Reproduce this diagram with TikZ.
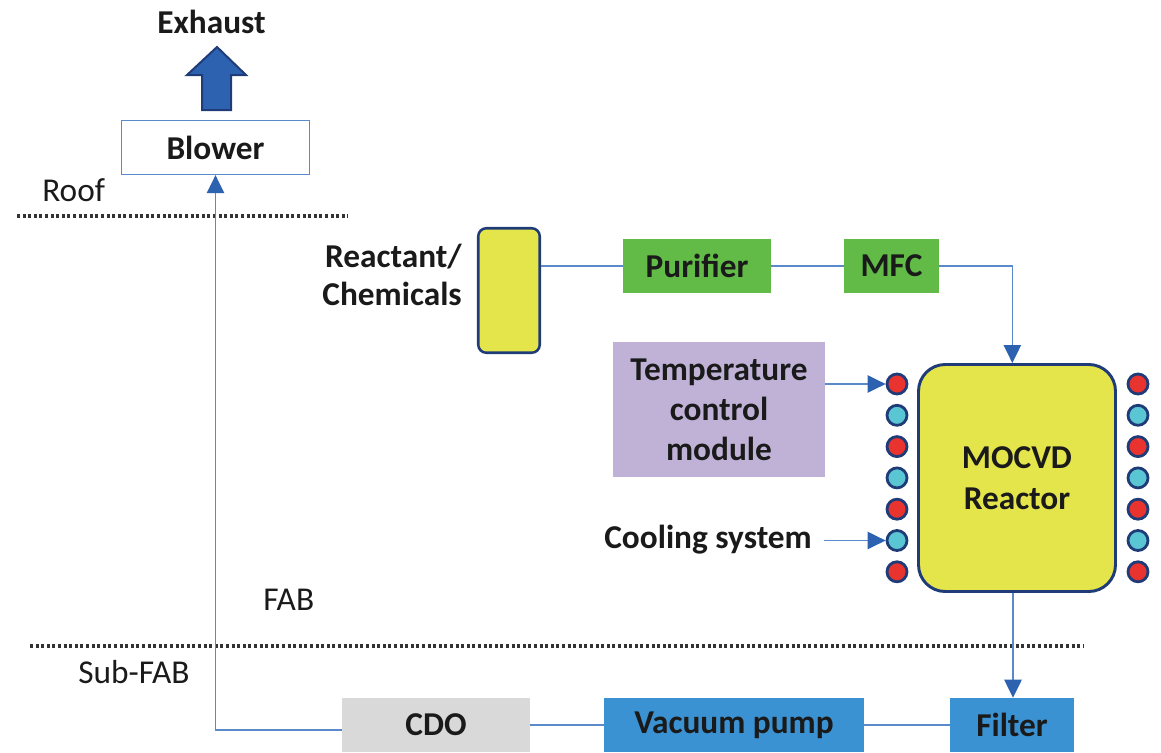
\documentclass[tikz,border=0pt]{standalone}
\usepackage{fontspec}
\setmainfont{Carlito}
\usetikzlibrary{arrows.meta,calc}
\definecolor{lineblue}{HTML}{5A8ACB}
\definecolor{tipblue}{HTML}{2C62B0}
\definecolor{navy}{HTML}{1F3C78}
\definecolor{greenbox}{HTML}{62BB46}
\definecolor{purplebox}{HTML}{C0B2D7}
\definecolor{graybox}{HTML}{D9D9D9}
\definecolor{bluebox}{HTML}{3B92D2}
\definecolor{yellowbox}{HTML}{E4E54B}
\definecolor{reddot}{HTML}{E9332E}
\definecolor{cyandot}{HTML}{5BC6D3}
\definecolor{textdark}{HTML}{1A1A1A}
\newcommand{\px}[1]{#1*0.75pt}
\begin{document}
\begin{tikzpicture}[x=0.75pt,y=-0.75pt,
  box/.style={rectangle, inner sep=0pt, text=textdark,
    font=\bfseries\fontsize{25}{30}\selectfont},
  lbl/.style={inner sep=0pt, text=textdark, font=\fontsize{25}{30}\selectfont},
  blbl/.style={inner sep=0pt, text=textdark, font=\bfseries\fontsize{25}{30}\selectfont},
  conn/.style={draw=lineblue, line width=1.1pt},
  arr/.style={conn, -{Triangle[length=13.5pt,width=13pt,color=tipblue]}},
  dotline/.style={draw=black!80, line width=2.3pt, dash pattern=on 2.2pt off 2pt},
  portdot/.style={circle, inner sep=0pt, minimum size=\px{20}, draw=navy, line width=2.1pt}
]
\useasboundingbox (0,0) rectangle (1161,753);

% exhaust
\node[blbl, anchor=base] (exh) at (211.5,33) {Exhaust};
\draw[fill=tipblue, draw=navy, line width=1.5pt]
  (202,110) -- (202,75) -- (187,75) -- (217,47) -- (246,75) -- (231,75) -- (231,110) -- cycle;

% blower
\node[box, draw=lineblue, line width=1pt, fill=white,
  minimum width=\px{188}, minimum height=\px{54}] (blower) at (215.5,147.5) {Blower};

% level labels and lines
\node[lbl, anchor=base west] (roof) at (42,201.5) {Roof};
\node[lbl, anchor=base west] (fab) at (263,610) {FAB};
\node[lbl, anchor=base west] (subfab) at (78,683) {Sub-FAB};
\coordinate (r1) at (17,216);
\coordinate (r2) at (348,216);
\coordinate (s1) at (30,646);
\coordinate (s2) at (1083,646);
\draw[dotline] (r1) -- (r2);
\draw[dotline] (s1) -- (s2);

% chemicals
\node[blbl, anchor=east, align=right, font=\bfseries\fontsize{25}{28.5}\selectfont]
  (chemlbl) at (462,275) {Reactant/\\Chemicals};
\node[rectangle, draw=navy, fill=yellowbox, line width=1.9pt, rounded corners=6pt,
  minimum width=\px{61.5}, minimum height=\px{124.5}] (cyl) at (509,290.5) {};

\node[box, fill=greenbox, minimum width=\px{148}, minimum height=\px{54}] (pur) at (697,266) {Purifier};
\node[box, fill=greenbox, minimum width=\px{95}, minimum height=\px{54}] (mfc) at (891.5,266) {MFC};

% temperature
\node[box, fill=purplebox, align=center, minimum width=\px{212}, minimum height=\px{135}]
  (temp) at (719,409.5) {Temperature\\control\\module};

% reactor
\node[box, draw=navy, fill=yellowbox, line width=2.2pt, rounded corners=20pt, align=center,
  font=\bfseries\fontsize{25}{31}\selectfont,
  minimum width=\px{197}, minimum height=\px{227}] (reactor) at (1017,478) {MOCVD\\Reactor};

% dots
\foreach \i/\c in {1/reddot,2/cyandot,3/reddot,4/cyandot,5/reddot,6/cyandot,7/reddot} {
  \node[portdot, fill=\c] (dl\i) at (897,{384+(\i-1)*31.3}) {};
  \node[portdot, fill=\c] (dr\i) at (1138,{384+(\i-1)*31.3}) {};
}

\node[blbl, anchor=base east] (cool) at (812,548) {Cooling system};

% bottom boxes
\node[box, fill=graybox, minimum width=\px{188}, minimum height=\px{54}] (cdo) at (436,725) {CDO};
\node[box, fill=bluebox, minimum width=\px{260}, minimum height=\px{54}] (vac) at (734,725) {Vacuum pump};
\node[box, fill=bluebox, minimum width=\px{124}, minimum height=\px{54}] (filter) at (1012,725) {Filter};

% connectors
\draw[conn] (pur.west -| cyl.east) -- (pur.west);
\draw[conn] (pur.east) -- (mfc.west);
\draw[arr] (mfc.east) -| ([xshift=-3.5pt]reactor.north);
\draw[arr] (temp.east |- dl1) -- (dl1);
\draw[arr] ([xshift=9pt]cool.east |- dl6) -- (dl6);
\draw[arr] ([xshift=-3pt]reactor.south) -- ([xshift=-3pt]reactor.south |- filter.north);
\draw[conn] (cdo.east) -- (vac.west);
\draw[conn] (vac.east) -- (filter.west);
\draw[arr] ([yshift=-3.75pt]cdo.west) -| (blower.south);
\end{tikzpicture}
\end{document}
